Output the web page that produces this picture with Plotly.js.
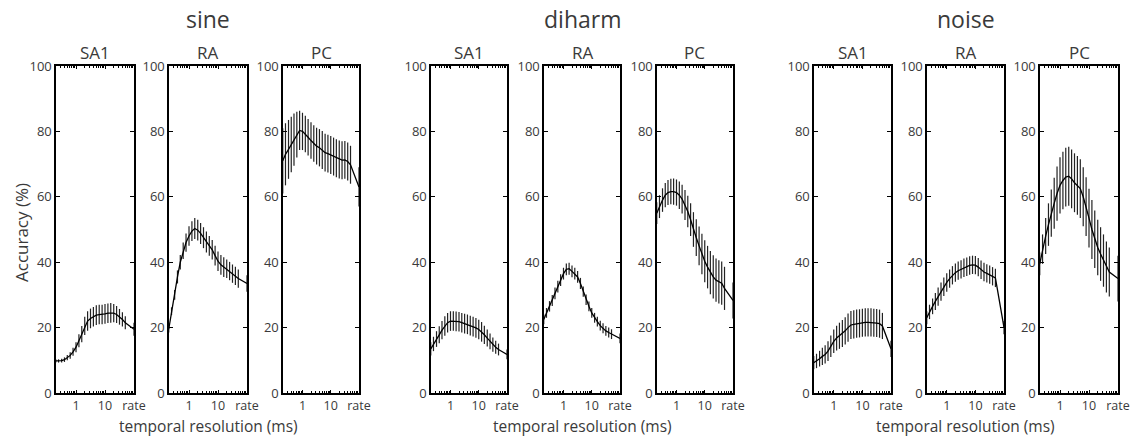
<!DOCTYPE html>
<html>
<head>
<meta charset="utf-8">
<script src="https://cdn.plot.ly/plotly-3.0.1.min.js"></script>
<style>html,body{margin:0;padding:0;background:#fff;}#chart{width:1133px;height:437px;}</style>
</head>
<body>
<div id="chart"></div>
<script>
// temporal resolutions (ms); last point is the "rate" code, placed at 100
const resolutions = [0.2,0.25,0.32,0.4,0.5,0.63,0.79,1,1.26,1.58,2,2.51,3.16,3.98,5.01,6.31,7.94,10,12.6,15.8,20,25.1,31.6,39.8,50.1,100];
const tickVals = [1,10,100];
const tickLabels = ['1','10','rate'];
const stimuli = ['sine','diharm','noise'];
const afferents = ['SA1','RA','PC'];

// mean accuracy (%)
const sineSA1  = [9.8,9.8,9.9,10.2,10.8,11.5,12.6,14,16,18,20.5,22,22.8,23.3,23.8,24,24,24.2,24.4,24.5,24.4,24,23.3,22.5,21.5,19.5];
const sineRA   = [19.5,25,30,35.5,40,43.5,46,48,49.5,50.3,49.8,48.8,47.5,46.2,45,43.8,42,40.3,39.2,38.5,38,37.3,36.5,35.8,35,33.5];
const sinePC   = [71,73,74.5,76,77.5,79,80.3,80,79.2,78.2,77.2,76.3,75.5,75,74.3,73.5,73.2,72.8,72.3,71.8,71.4,71.2,71.3,70.8,69.8,63];
const diharmSA1= [13.5,15,16.5,17.8,19.2,20.5,21.5,22,22,21.9,21.8,21.5,21.2,21,20.6,20.3,19.9,19.4,18.7,17.8,16.8,15.8,14.8,14,13.3,11.8];
const diharmRA = [22.5,24.5,26.5,28.3,30.5,32.5,34.5,36.5,37.8,38,37.2,36.5,35.5,33.5,31,28.5,26.5,24.5,23,21.8,20.6,19.8,19,18.5,18,16.7];
const diharmPC = [55,57,59,60.5,61.3,61.6,61.6,61.3,60.5,59.3,57.5,55.5,53,50,47.5,45,42.5,40.3,38.5,36.8,35.5,34.5,34,33.6,32,28.3];
const noiseSA1 = [9.3,9.8,10.5,11.2,11.8,12.8,14.3,15.8,16.8,17.5,18.2,19,20,20.8,21,21.2,21.3,21.5,21.6,21.6,21.6,21.5,21.4,21.2,20.5,13.5];
const noiseRA  = [23,24.8,26.5,28,29.5,31,32.5,33.8,35,36,36.8,37.4,37.8,38.3,38.6,39,39.2,39.1,38.5,37.7,37,36.6,36.2,35.7,35.2,20];
const noisePC  = [39.5,44,48,51.5,55,58,61,63.5,65,66,66.3,65.5,64.3,63.5,62.5,60,57,53.5,50,47,44.5,42.5,40.5,38.5,37,35];

// error bar half-lengths (%)
const sineSA1Err  = [0.5,0.5,0.6,0.7,0.8,1,1.2,1.5,2,2.5,2.8,3,3,3,3,3,3,3,3,3,2.8,2.6,2.4,2.2,2,2];
const sineRAErr   = [1,1.2,1.5,2,2.2,2.5,2.8,3,3,3.2,3.2,3.2,3.2,3.2,3,3,3,3,3,3,2.8,2.8,2.8,2.8,2.8,2.5];
const sinePCErr   = [10,9.5,9,8.5,8,7,6,5.7,5.6,5.6,5.6,5.6,5.6,5.7,5.8,5.8,5.8,5.8,5.8,5.8,5.8,5.8,5.8,5.8,5.8,6];
const diharmSA1Err= [2,2.2,2.4,2.6,2.8,3,3,3,3,3,3,3,3,3,3,3,3,3,3,2.8,2.6,2.4,2.2,2,1.8,1.5];
const diharmRAErr = [1.5,1.5,1.6,1.7,1.8,1.8,1.8,1.8,1.8,1.8,1.8,1.8,1.8,1.7,1.6,1.6,1.5,1.5,1.5,1.5,1.5,1.5,1.5,1.5,1.5,1.5];
const diharmPCErr = [3.3,3.5,3.6,3.7,3.8,3.9,4,4,4.2,4.4,4.6,4.8,5,5.3,5.6,5.9,6.2,6.4,6.5,6.6,6.6,6.6,6.6,6.6,6.6,5.5];
const noiseSA1Err = [2,2.2,2.4,2.6,2.8,3,3.3,3.6,3.8,4,4.1,4.2,4.3,4.3,4.3,4.3,4.3,4.3,4.3,4.3,4.3,4.3,4.3,4.3,4,2.5];
const noiseRAErr  = [2,2.2,2.4,2.6,2.8,2.8,2.8,2.8,2.8,2.8,2.8,2.8,2.8,2.8,2.8,2.8,2.8,2.8,2.8,2.8,2.8,2.8,2.8,2.8,2.8,2];
const noisePCErr  = [3.5,4.5,5.5,6.5,7.2,7.8,8.3,8.6,8.8,9,9,9,9,9,9,9,9,9,9,8.8,8.5,8.2,8,7.8,7.5,7];

const series = [
  [sineSA1,sineSA1Err],[sineRA,sineRAErr],[sinePC,sinePCErr],
  [diharmSA1,diharmSA1Err],[diharmRA,diharmRAErr],[diharmPC,diharmPCErr],
  [noiseSA1,noiseSA1Err],[noiseRA,noiseRAErr],[noisePC,noisePCErr]
];

const W = 1133, H = 437;
const panelPx = [[56,134],[169,247],[283,359],[431,507],[544,620],[657,733],[814,891],[927,1004],[1040,1118]];
const yTop = 66, yBot = 393;
const yDom = [1 - yBot/H, 1 - yTop/H];
const FONT = 'Open Sans, Liberation Sans, sans-serif';
const TXT = '#3a3a3a';

const minorVals = [];
[0.1,1,10].forEach(d => { for (let k=2;k<=9;k++) minorVals.push(d*k); });

const data = [];
const layout = {
  width: W, height: H,
  margin: {l:0,r:0,t:0,b:0},
  paper_bgcolor: '#fff', plot_bgcolor: '#fff',
  showlegend: false,
  font: {family: FONT, color: TXT},
  annotations: []
};

series.forEach((s, i) => {
  const n = i + 1;
  const xa = 'x' + (n === 1 ? '' : n), ya = 'y' + (n === 1 ? '' : n);
  data.push({
    type: 'scatter', mode: 'lines',
    x: resolutions, y: s[0],
    xaxis: xa, yaxis: ya,
    line: {color: '#000', width: 1.3},
    error_y: {type: 'data', array: s[1], visible: true, width: 0, thickness: 1.2, color: '#222'},
    cliponaxis: false,
    hoverinfo: 'skip'
  });
  const dom = [panelPx[i][0]/W, panelPx[i][1]/W];
  layout['xaxis' + (n === 1 ? '' : n)] = {
    domain: dom, anchor: ya, type: 'log',
    range: [-0.69, 2.0],
    tickmode: 'array', tickvals: tickVals, ticktext: tickLabels,
    ticks: 'inside', ticklen: 3, tickwidth: 1, tickcolor: '#000',
    minor: {tickmode: 'array', tickvals: minorVals, ticks: 'inside', ticklen: 2, tickwidth: 1, tickcolor: '#000'},
    showline: true, linecolor: '#000', linewidth: 1.6, mirror: 'ticks',
    showgrid: false, zeroline: false, fixedrange: true,
    ticklabelstandoff: 0,
    tickfont: {family: FONT, size: 12.5, color: TXT}
  };
  layout['yaxis' + (n === 1 ? '' : n)] = {
    domain: yDom, anchor: xa, range: [0, 100],
    tickmode: 'array', tickvals: [0,20,40,60,80,100],
    ticks: 'inside', ticklen: 4, tickwidth: 1, tickcolor: '#000',
    showline: true, linecolor: '#000', linewidth: 1.6, mirror: 'ticks',
    showgrid: false, zeroline: false, fixedrange: true,
    ticklabelstandoff: 0,
    tickfont: {family: FONT, size: 13, color: TXT}
  };
  // afferent title
  layout.annotations.push({
    xref: 'paper', yref: 'paper', x: (dom[0]+dom[1])/2, y: 1 - 52/H,
    text: afferents[i % 3], showarrow: false, xanchor: 'center', yanchor: 'middle',
    font: {family: FONT, size: 17, color: TXT}
  });
});

stimuli.forEach((st, g) => {
  const mid = panelPx[g*3+1];
  const cx = (mid[0]+mid[1])/2/W;
  layout.annotations.push({
    xref: 'paper', yref: 'paper', x: cx, y: 1 - 19/H,
    text: st, showarrow: false, xanchor: 'center', yanchor: 'middle',
    font: {family: FONT, size: 23, color: TXT}
  });
  layout.annotations.push({
    xref: 'paper', yref: 'paper', x: cx, y: 1 - 426/H,
    text: 'temporal resolution (ms)', showarrow: false, xanchor: 'center', yanchor: 'middle',
    font: {family: FONT, size: 15.5, color: TXT}
  });
});

layout.annotations.push({
  xref: 'paper', yref: 'paper', x: 22/W, y: 1 - 232/H,
  text: 'Accuracy (%)', showarrow: false, textangle: -90, xanchor: 'center', yanchor: 'middle',
  font: {family: FONT, size: 17, color: TXT}
});

Plotly.newPlot('chart', data, layout, {displayModeBar: false, staticPlot: true});
</script>
</body>
</html>
